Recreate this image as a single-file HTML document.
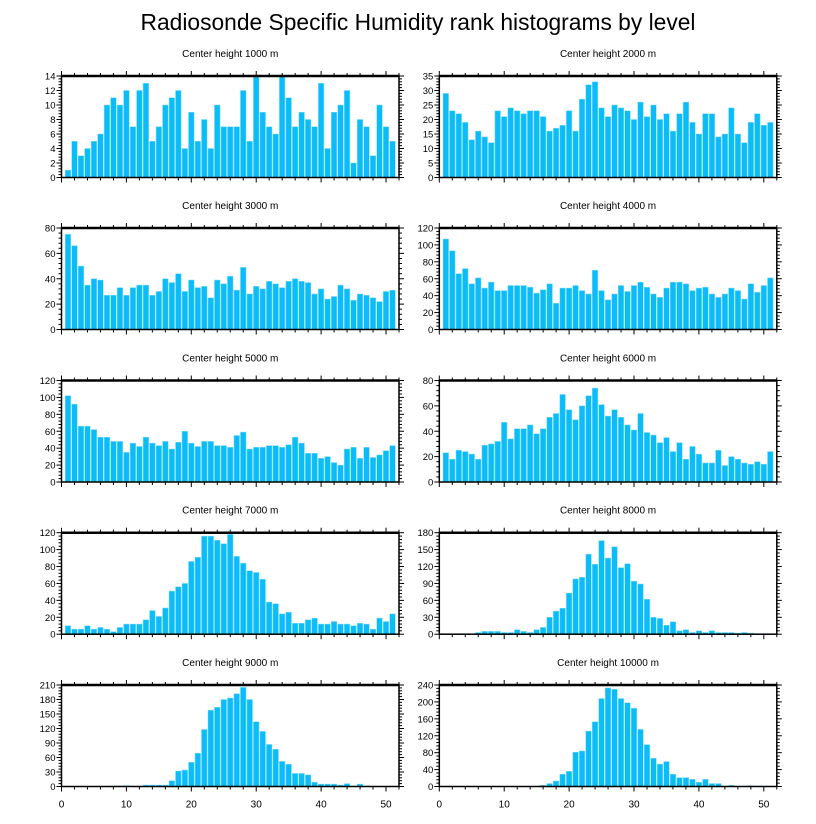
<!DOCTYPE html>
<html><head><meta charset="utf-8">
<style>
body{margin:0;background:#fff;}
svg{display:block;font-family:"Liberation Sans",sans-serif;}
</style></head>
<body>
<svg id="chart" width="816" height="824" viewBox="0 0 816 824" xmlns="http://www.w3.org/2000/svg">
<text x="418" y="30" font-size="22.8" text-anchor="middle" fill="#000">Radiosonde Specific Humidity rank histograms by level</text>
</svg>
<script>
const levels = [1000,2000,3000,4000,5000,6000,7000,8000,9000,10000];
const h1000 = [1,5,3,4,5,6,10,11,10,12,7,12,13,5,7,10,11,12,4,9,5,8,4,10,7,7,7,12,5,14,9,7,6,14,11,7,9,8,7,13,4,9,10,12,2,8,7,3,10,7,5];
const h2000 = [29,23,22,19,13,16,14,12,23,21,24,23,22,23,23,21,16,17,18,23,16,27,32,33,24,21,25,24,23,20,26,21,25,20,22,16,22,26,19,15,22,22,14,15,24,15,12,19,22,18,19];
const h3000 = [75,66,50,35,40,39,27,27,33,27,33,35,35,27,30,40,37,44,30,39,33,34,25,39,36,42,31,49,28,34,32,38,36,33,38,40,38,37,28,32,24,26,35,32,23,28,27,25,22,30,31];
const h4000 = [107,93,66,72,54,61,49,56,46,46,52,52,52,50,43,47,54,31,49,49,52,46,42,70,46,35,42,52,45,52,56,50,42,38,49,56,56,54,46,49,50,42,38,42,49,46,36,54,44,52,61];
const h5000 = [102,92,66,66,62,53,53,48,48,35,46,42,53,46,43,48,39,47,60,46,42,48,48,43,43,41,55,59,39,41,41,43,43,41,44,53,46,34,34,28,30,23,20,39,41,28,41,29,32,37,43];
const h6000 = [23,18,25,24,22,18,29,30,32,47,34,42,42,45,38,42,51,54,69,57,49,60,68,74,61,52,57,51,45,41,54,39,37,31,35,24,31,18,28,22,15,15,25,13,20,18,15,14,16,14,24];
const h7000 = [10,6,6,10,6,8,6,3,8,12,12,12,17,28,21,31,51,56,60,86,91,116,116,111,107,118,92,84,75,73,65,38,36,24,26,13,13,17,19,12,12,15,12,12,10,13,12,6,19,15,24];
const h8000 = [0,0,0,1,0,3,5,5,5,3,3,8,5,3,8,12,30,41,46,73,98,101,142,124,166,135,155,118,125,94,89,62,30,28,16,22,6,8,3,6,3,6,3,3,3,2,3,2,1,1,1];
const h9000 = [0,0,0,0,0,0,0,1,1,2,1,1,3,3,3,3,12,32,34,50,69,118,158,164,180,183,192,205,180,134,114,87,77,52,46,27,27,24,9,5,5,5,3,6,1,5,1,0,0,0,0];
const h10000 = [0,0,0,0,0,0,0,0,0,0,0,0,0,0,1,3,7,13,29,36,81,84,131,153,208,233,230,208,198,185,135,99,67,53,59,29,21,21,17,10,17,7,7,1,3,1,1,2,1,1,1];
const yMax = [14,35,80,120,120,80,120,180,210,240];
const yStep = [2,5,20,20,20,20,20,30,30,40];
const xTicks = [0,10,20,30,40,50];
const series = [h1000,h2000,h3000,h4000,h5000,h6000,h7000,h8000,h9000,h10000];

const NS="http://www.w3.org/2000/svg";
const svg=document.getElementById('chart');
function mk(tag,attrs,parent){const e=document.createElementNS(NS,tag);for(const k in attrs)e.setAttribute(k,attrs[k]);(parent||svg).appendChild(e);return e;}

const colL=[61.5,439.3], W=337.5, H=101.5;
const rowTop=[76,228,380.5,532.7,685];

series.forEach((vals,i)=>{
  const col=i%2,row=Math.floor(i/2);
  const x0=colL[col], y0=rowTop[row];
  const xs=v=>x0+v/52*W;
  const ys=v=>y0+H-v/yMax[i]*H;
  const g=mk('g',{});
  
  
  const t=mk('text',{x:x0+W/2,y:y0-19,'font-size':10,'text-anchor':'middle',fill:'#000'},g);
  
  
  t.textContent='Center height '+levels[i]+' m';
  vals.forEach((v,k)=>{
    const c=k+1;
    if(v<=0)return;
    const r=mk('rect',{x:xs(c-0.43),y:ys(v),width:xs(0.86)-xs(0),height:ys(0)-ys(v),fill:'#0cbcf6',stroke:'#7fdcff','stroke-width':0.5},g);
    
    
  });
  const f=mk('rect',{x:x0,y:y0,width:W,height:H,fill:'none',stroke:'#000','stroke-width':1.5},g);
  
  
  mk('line',{x1:x0,x2:x0+W,y1:y0,y2:y0,stroke:'#000','stroke-width':2.5},g);
  for(let v=0;v<=52;v+=2){
    const major=v%10===0, L=major?5:3, X=xs(v);
    mk('line',{x1:X,x2:X,y1:y0,y2:y0-L,stroke:'#000','stroke-width':1},g);
    mk('line',{x1:X,x2:X,y1:y0+H,y2:y0+H+L,stroke:'#000','stroke-width':1},g);
  }
  if(row===4){
    xTicks.forEach(v=>{
      const tl=mk('text',{x:xs(v),y:y0+H+21,'font-size':10,'text-anchor':'middle',fill:'#000'},g);
      
      
      tl.textContent=v;
    });
  }
  const minor=yStep[i]/5;
  for(let m=0;m<=yMax[i]+1e-9;m+=minor){
    const vv=Math.round(m*1000)/1000;
    const major=Math.abs(vv/yStep[i]-Math.round(vv/yStep[i]))<1e-6, L=major?5:3, Y=ys(vv);
    mk('line',{x1:x0,x2:x0-L,y1:Y,y2:Y,stroke:'#000','stroke-width':1},g);
    mk('line',{x1:x0+W,x2:x0+W+L,y1:Y,y2:Y,stroke:'#000','stroke-width':1},g);
    if(major){
      const yl=mk('text',{x:x0-6,y:Y+3.5,'font-size':9.5,'text-anchor':'end',fill:'#000'},g);
      
      
      yl.textContent=vv;
    }
  }
});
</script>
</body></html>
